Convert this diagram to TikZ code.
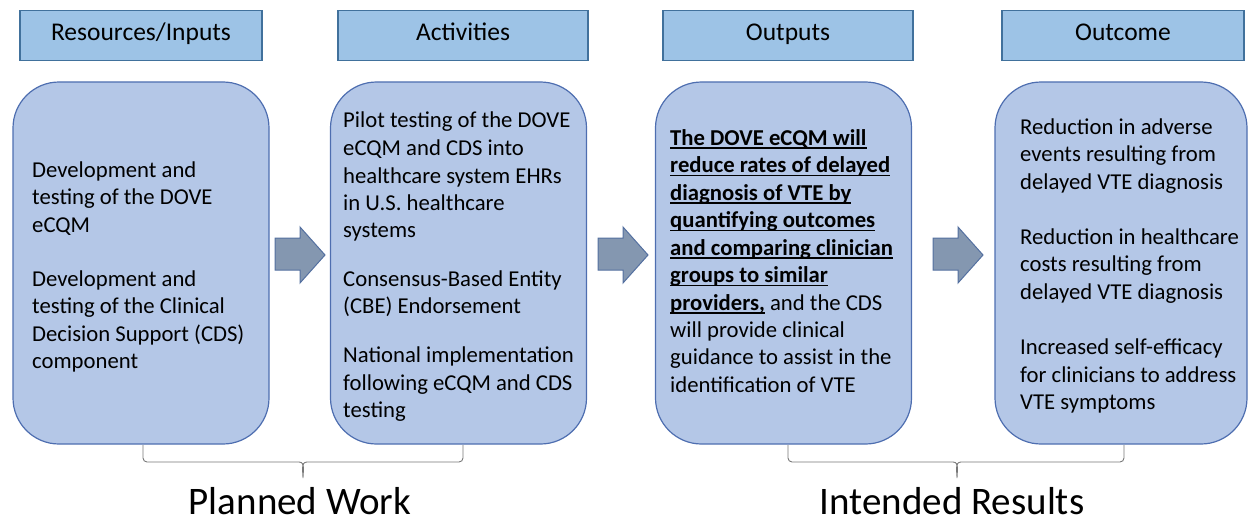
\documentclass[tikz,border=0pt]{standalone}
\usepackage{fontspec}
\setmainfont{Carlito}
\definecolor{headfill}{RGB}{157,195,230}
\definecolor{headline}{RGB}{65,113,156}
\definecolor{boxfill}{RGB}{180,199,231}
\definecolor{boxline}{RGB}{78,110,176}
\definecolor{arrfill}{RGB}{132,151,176}
\definecolor{arrline}{RGB}{84,112,160}
\definecolor{bracecol}{RGB}{120,120,120}
% stacked lines; the node's base is the first line's baseline
\newcommand\txtlines[1]{\vtop{\baselineskip=27.5pt\lineskiplimit=-50pt\lineskip=0pt
  \halign{##\hfil\cr#1\crcr}}}
\newcommand\pgap[1]{\noalign{\vskip#1}}
% bold text with a rule just under the baseline
\newcommand\bul[1]{\setbox0\hbox{\bfseries#1}\rlap{\rule[-3.6pt]{\wd0}{1.3pt}}\box0\relax}
\tikzset{
  headbox/.style={draw=headline, fill=headfill, line width=1.1pt, minimum width=242pt,
    minimum height=50pt, inner sep=0pt, text height=16.5pt, text depth=5.5pt,
    font=\fontsize{25.5}{30}\selectfont},
  roundbox/.style={draw=boxline, fill=boxfill, line width=1.2pt, rounded corners=46pt,
    minimum width=256pt, minimum height=362pt, inner sep=0pt},
  bodytext/.style={anchor=base west, inner sep=0pt, font=\fontsize{22.7}{27.5}\selectfont},
  blockarrow/.style={draw=arrline, fill=arrfill, line width=1pt, line join=miter},
  bracket/.style={draw=bracecol, line width=0.9pt},
  grouplabel/.style={anchor=base, inner sep=0pt, text depth=0pt, font=\fontsize{39}{42}\selectfont},
}
\begin{document}
\begin{tikzpicture}[x=1pt, y=-1pt]
\useasboundingbox (0,0) rectangle (1248,519);

% column headings
\node[headbox] (h1) at (141,35.5) {Resources/Inputs};
\node[headbox, minimum width=250pt] (h2) at (463,35.5) {Activities};
\node[headbox, minimum width=250pt] (h3) at (788,35.5) {Outputs};
\node[headbox] (h4) at (1123,35.5) {Outcome};

% rounded content boxes
\node[roundbox] (b1) at (141,263) {};
\node[roundbox] (b2) at (458.5,263) {};
\node[roundbox] (b3) at (783.5,263) {};
\node[roundbox, minimum width=252pt] (b4) at (1121,263) {};

% box texts
\node[bodytext] (t1) at (32,177) {\txtlines{%
  Development and\cr
  testing of the DOVE\cr
  eCQM\cr\pgap{26.5pt}
  Development and\cr
  testing of the Clinical\cr
  Decision Support (CDS)\cr
  component}};

\node[bodytext] (t2) at (343,128) {\txtlines{%
  Pilot testing of the DOVE\cr
  eCQM and CDS into\cr
  healthcare system EHRs\cr
  in U.S. healthcare\cr
  systems\cr\pgap{21pt}
  Consensus-Based Entity\cr
  (CBE) Endorsement\cr\pgap{21.5pt}
  National implementation\cr
  following eCQM and CDS\cr
  testing}};

\node[bodytext] (t3) at (670,145) {\txtlines{%
  \bul{The DOVE eCQM will}\cr
  \bul{reduce rates of delayed}\cr
  \bul{diagnosis of VTE by}\cr
  \bul{quantifying outcomes}\cr
  \bul{and comparing clinician}\cr
  \bul{groups to similar}\cr
  \bul{providers,} and the CDS\cr
  will provide clinical\cr
  guidance to assist in the\cr
  identification of VTE}};

\node[bodytext] (t4) at (1020,134) {\txtlines{%
  Reduction in adverse\cr
  events resulting from\cr
  delayed VTE diagnosis\cr\pgap{28pt}
  Reduction in healthcare\cr
  costs resulting from\cr
  delayed VTE diagnosis\cr\pgap{28pt}
  Increased self-efficacy\cr
  for clinicians to address\cr
  VTE symptoms}};

% block arrows between the boxes
\foreach \ax/\nm in {275/a1, 598/a2, 933/a3}{
  \draw[blockarrow] (\ax,238) -- ++(25,0) -- ++(0,-11) -- ++(25,28) -- ++(-25,28)
    -- ++(0,-13) -- ++(-25,0) -- cycle;
  \coordinate (\nm) at (\ax+25,255);
}

% braces grouping the columns
\coordinate (p1) at (143,445); \coordinate (p2) at (463,445); \coordinate (pt) at (303,478);
\coordinate (r1) at (788,445); \coordinate (r2) at (1124,445); \coordinate (rt) at (957,478);
\foreach \l/\r/\t in {p1/p2/pt, r1/r2/rt}{
  \draw[bracket] (\l) -- ++(0,13) to[out=-90,in=180] ++(4,4) -| ([xshift=-4pt]\t |- 0,462)
    to[out=0,in=90] (\t) to[out=90,in=180] ([xshift=4pt]\t |- 0,462) -| ([xshift=-4pt]\r |- 0,462)
    to[out=0,in=-90] ([yshift=-13pt]\r) -- (\r);
}

% group labels
\node[grouplabel] (lw) at (300,514) {Planned Work};
\node[grouplabel] (lr) at (952,514) {Intended Results};
\end{tikzpicture}
\end{document}
